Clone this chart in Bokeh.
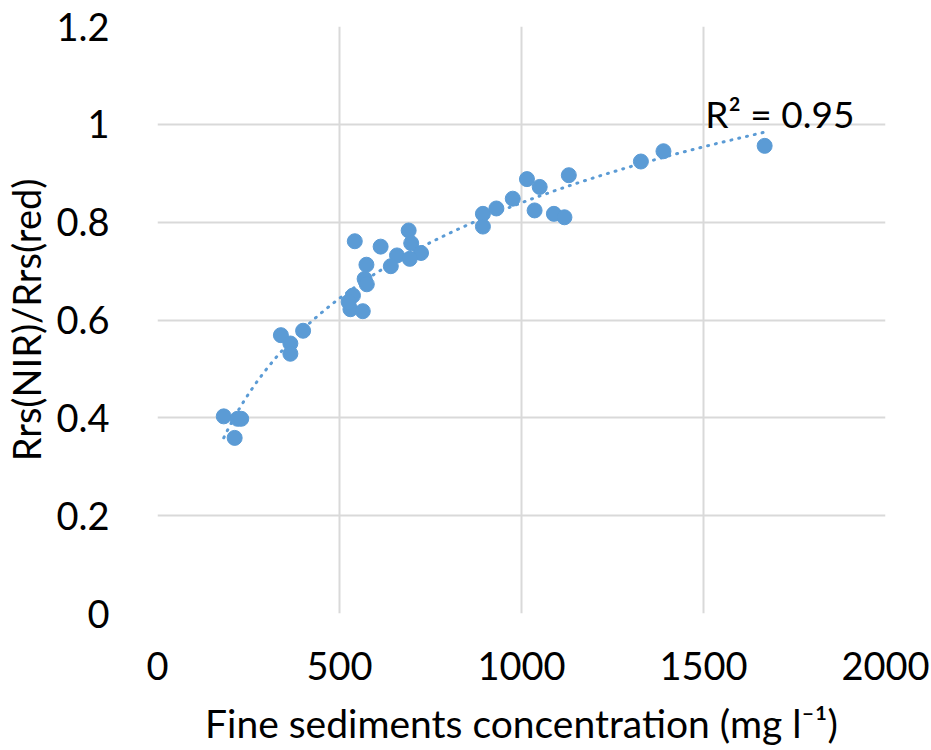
import numpy as np
from bokeh.plotting import figure
from bokeh.models import Range1d, Label, FixedTicker, ColumnDataSource
from bokeh.embed import file_html
from bokeh.resources import INLINE

# Data
fine_sediments = [182, 212, 220, 230, 339, 365, 365, 400, 530, 564,
                  537, 525, 542, 613, 690, 697, 724, 658, 693, 641,
                  574, 569, 575, 894, 894, 931, 976, 1015, 1050, 1036,
                  1089, 1118, 1130, 1328, 1390, 1668]
ratio = [0.403, 0.359, 0.398, 0.398, 0.569, 0.552, 0.531, 0.578, 0.622, 0.618,
         0.650, 0.637, 0.761, 0.750, 0.783, 0.757, 0.737, 0.732, 0.725, 0.710,
         0.713, 0.684, 0.673, 0.817, 0.791, 0.828, 0.848, 0.888, 0.872, 0.824,
         0.817, 0.810, 0.896, 0.924, 0.945, 0.956]
r2_text = "R² = 0.95"
x_title = "Fine sediments concentration (mg l⁻¹)"
y_title = "Rrs(NIR)/Rrs(red)"
x_ticks = [0, 500, 1000, 1500, 2000]
y_ticks = [0, 0.2, 0.4, 0.6, 0.8, 1.0, 1.2]

FONT = "Lato"
BLUE = "#5B9BD5"
GRID = "#D9D9D9"

p = figure(width=931, height=750, output_backend="svg", toolbar_location=None,
           x_range=Range1d(0, 2000), y_range=Range1d(0, 1.2),
           min_border_left=157, min_border_right=46, min_border_top=26,
           min_border_bottom=137)
p.outline_line_color = None
p.background_fill_color = "white"

for ax in (p.xaxis[0], p.yaxis[0]):
    ax.axis_line_color = None
    ax.major_tick_line_color = None
    ax.minor_tick_line_color = None
    ax.major_label_text_font = FONT
    ax.major_label_text_font_size = "38px"
    ax.major_label_text_color = "#000000"
    ax.axis_label_text_font = FONT
    ax.axis_label_text_font_size = "38px"
    ax.axis_label_text_font_style = "normal"
    ax.axis_label_text_color = "#000000"

p.xaxis.axis_label_text_font_size = "39px"
p.xaxis.ticker = FixedTicker(ticks=x_ticks)
p.yaxis.ticker = FixedTicker(ticks=y_ticks)
p.yaxis.major_label_overrides = {0: "0", 0.2: "0.2", 0.4: "0.4", 0.6: "0.6",
                                 0.8: "0.8", 1.0: "1", 1.2: "1.2"}
p.xaxis.major_label_standoff = 32
p.yaxis.major_label_standoff = 42
p.xaxis.axis_label = x_title
p.yaxis.axis_label = y_title
p.xaxis.axis_label_standoff = 17
p.yaxis.axis_label_standoff = 4

p.xgrid.grid_line_color = GRID
p.ygrid.grid_line_color = GRID
p.xgrid.grid_line_width = 2
p.ygrid.grid_line_width = 2

# Logarithmic trendline fitted from the data
xs = np.array(fine_sediments, dtype=float)
ys = np.array(ratio, dtype=float)
a, b = np.polyfit(np.log(xs), ys, 1)
tx = np.linspace(xs.min(), xs.max(), 200)
ty = a * np.log(tx) + b
p.line(tx, ty, line_color=BLUE, line_width=3, line_dash="1 7", line_cap="round")

src = ColumnDataSource(dict(x=fine_sediments, y=ratio))
p.scatter("x", "y", source=src, size=15, fill_color=BLUE, line_color=BLUE)

p.add_layout(Label(x=1505, y=1.022, text=r2_text, text_font=FONT,
                   text_font_size="37px", text_color="#000000",
                   text_baseline="alphabetic"))

open("out.html", "w").write(file_html(p, INLINE))
